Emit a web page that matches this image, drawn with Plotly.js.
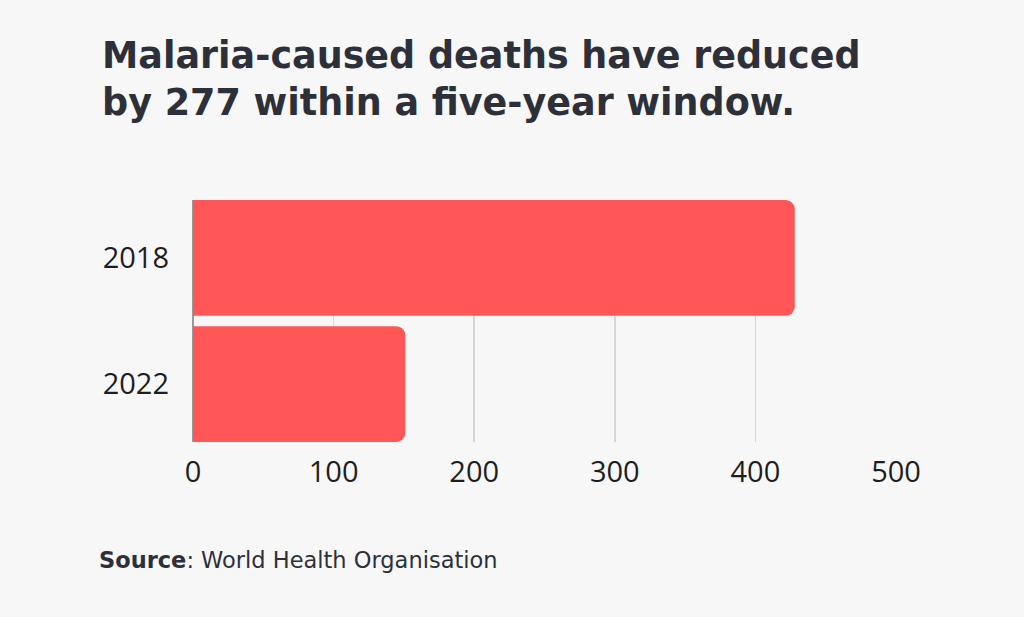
<!DOCTYPE html>
<html>
<head>
<meta charset="utf-8">
<script src="https://cdn.plot.ly/plotly-3.0.1.min.js"></script>
<style>
html,body{margin:0;padding:0;background:#f7f7f7;}
#chart{width:1024px;height:617px;}
</style>
</head>
<body>
<div id="chart"></div>
<script>
const categories = ["2018", "2022"];
const deaths = [428, 151];
const xTicks = [0, 100, 200, 300, 400, 500];
const titleText = "Malaria-caused deaths have reduced<br>by 277 within a five-year window.";
const sourceText = "<b>Source</b>: World Health Organisation";

const gap = 0.082;
const trace = {
  type: "bar",
  orientation: "h",
  y: categories,
  x: deaths,
  marker: {color: "#ff5757", cornerradius: 9},
  hoverinfo: "none"
};

const layout = {
  width: 1024,
  height: 617,
  paper_bgcolor: "#f7f7f7",
  plot_bgcolor: "#f7f7f7",
  margin: {l: 193, r: 128, t: 200, b: 175},
  bargap: gap,
  showlegend: false,
  font: {family: "Open Sans, Noto Sans, sans-serif", color: "#1e1e1e"},
  title: {
    text: titleText,
    font: {family: "DejaVu Sans, Noto Sans, sans-serif", size: 36.5, weight: 700, color: "#2d3039"},
    xref: "container", yref: "container",
    x: 102/1024, xanchor: "left",
    y: 1 - 68/617, yanchor: "top"
  },
  xaxis: {
    range: [0, 500],
    tickvals: xTicks,
    ticktext: xTicks.map(String),
    showgrid: true,
    gridcolor: "#d6d6d6",
    gridwidth: 1.5,
    zeroline: true,
    zerolinecolor: "#9a9a9a",
    zerolinewidth: 1.5,
    showline: false,
    ticks: "",
    ticklabelstandoff: 10,
    tickfont: {size: 29, color: "#1e1e1e"},
    fixedrange: true
  },
  yaxis: {
    type: "category",
    autorange: false,
    range: [1.5 - gap/2, -0.5 + gap/2],
    showgrid: false,
    zeroline: false,
    showline: false,
    ticks: "",
    ticklabelstandoff: 23,
    tickfont: {size: 29, color: "#1e1e1e"},
    fixedrange: true
  },
  annotations: [{
    text: sourceText,
    xref: "paper", yref: "paper",
    x: (97 - 193) / (1024 - 193 - 128), xanchor: "left",
    y: -(560 - 442) / (617 - 200 - 175), yanchor: "middle",
    showarrow: false,
    font: {family: "DejaVu Sans, Noto Sans, sans-serif", size: 22.5, color: "#2d3039"}
  }]
};

Plotly.newPlot("chart", [trace], layout, {displayModeBar: false, staticPlot: true});
</script>
</body>
</html>
